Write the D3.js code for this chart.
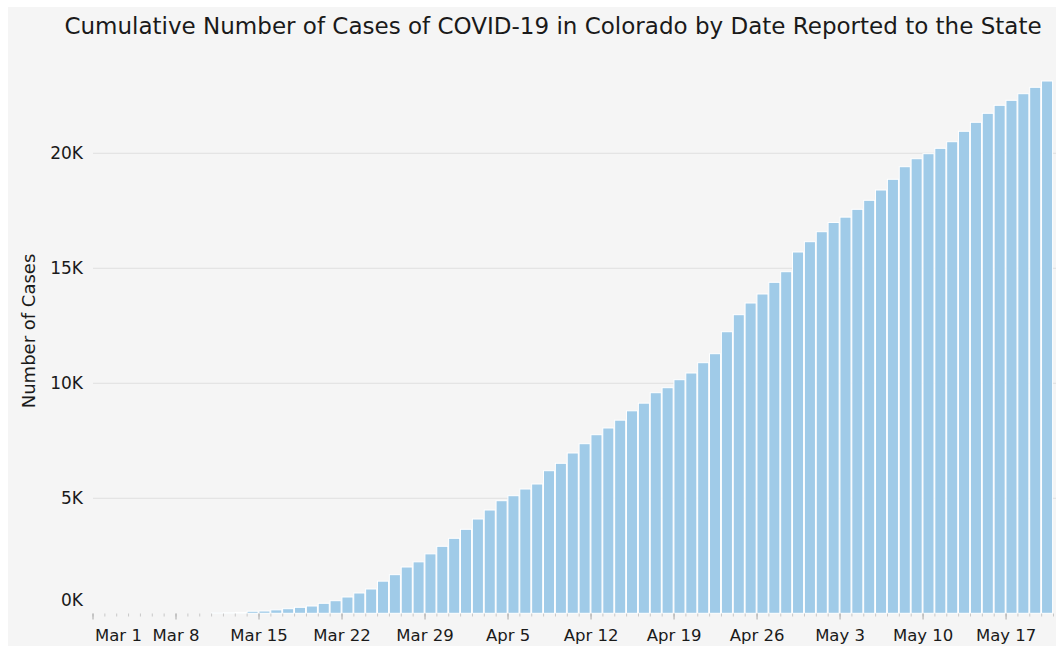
<!DOCTYPE html>
<html>
<head>
<meta charset="utf-8">
<script src="https://cdn.jsdelivr.net/npm/d3@7"></script>
<style>
  body { margin: 0; background: #ffffff; }
  svg { display: block; font-family: "DejaVu Sans", sans-serif; }
</style>
</head>
<body>
<div id="chart"></div>
<script>
// cumulative cases by date reported
const dates = [
  "2020-03-11", "2020-03-12", "2020-03-13", "2020-03-14", "2020-03-15", "2020-03-16", "2020-03-17",
  "2020-03-18", "2020-03-19", "2020-03-20", "2020-03-21", "2020-03-22", "2020-03-23", "2020-03-24",
  "2020-03-25", "2020-03-26", "2020-03-27", "2020-03-28", "2020-03-29", "2020-03-30", "2020-03-31",
  "2020-04-01", "2020-04-02", "2020-04-03", "2020-04-04", "2020-04-05", "2020-04-06", "2020-04-07",
  "2020-04-08", "2020-04-09", "2020-04-10", "2020-04-11", "2020-04-12", "2020-04-13", "2020-04-14",
  "2020-04-15", "2020-04-16", "2020-04-17", "2020-04-18", "2020-04-19", "2020-04-20", "2020-04-21",
  "2020-04-22", "2020-04-23", "2020-04-24", "2020-04-25", "2020-04-26", "2020-04-27", "2020-04-28",
  "2020-04-29", "2020-04-30", "2020-05-01", "2020-05-02", "2020-05-03", "2020-05-04", "2020-05-05",
  "2020-05-06", "2020-05-07", "2020-05-08", "2020-05-09", "2020-05-10", "2020-05-11", "2020-05-12",
  "2020-05-13", "2020-05-14", "2020-05-15", "2020-05-16", "2020-05-17", "2020-05-18", "2020-05-19",
  "2020-05-20"
];
const cases = [
  20, 30, 40, 90, 100, 150, 200,
  260, 317, 435, 548, 709, 883, 1057,
  1398, 1680, 2013, 2238, 2585, 2913, 3261,
  3652, 4100, 4491, 4896, 5113, 5404, 5622,
  6200, 6522, 6970, 7374, 7765, 8057, 8398,
  8804, 9137, 9591, 9809, 10157, 10448, 10896,
  11287, 12243, 12983, 13491, 13883, 14391, 14852,
  15709, 16157, 16591, 16993, 17225, 17565, 17957,
  18404, 18870, 19417, 19765, 19983, 20217, 20504,
  20957, 21348, 21739, 22087, 22304, 22591, 22870,
  23143
];
const yTicks = [0, 5000, 10000, 15000, 20000];
const axisStart = "2020-03-01";
const axisEnd = "2020-05-21";

const title = "Cumulative Number of Cases of COVID-19 in Colorado by Date Reported to the State";
const yTitle = "Number of Cases";

const w = 1056;
const h = 646;
const parse = d3.timeParse("%Y-%m-%d");
const data = dates.map((d, i) => ({ date: parse(d), value: cases[i] }));

const svg = d3.select("#chart")
  .append("svg")
  .attr("width", w)
  .attr("height", h);

svg.append("rect")
  .attr("x", 8)
  .attr("y", 7)
  .attr("width", w - 8)
  .attr("height", h - 7)
  .attr("fill", "#f5f5f5");

const xScale = d3.scaleTime()
  .domain([parse(axisStart), parse(axisEnd)])
  .range([92.5, 1053]);

const yScale = d3.scaleLinear()
  .domain([0, 20000])
  .range([613.3, 153.3]);

// gridlines
svg.append("g")
  .selectAll("line")
  .data(yTicks.filter(d => d > 0))
  .enter()
  .append("line")
  .attr("x1", 93)
  .attr("x2", w)
  .attr("y1", d => yScale(d))
  .attr("y2", d => yScale(d))
  .attr("stroke", "#e4e4e4")
  .attr("stroke-width", 1.2);

// bars
svg.append("g")
  .selectAll("rect")
  .data(data)
  .enter()
  .append("rect")
  .attr("x", d => xScale(d.date) + 0.4)
  .attr("width", d => xScale(d3.timeDay.offset(d.date, 1)) - xScale(d.date) - 0.8)
  .attr("y", d => yScale(d.value))
  .attr("height", d => yScale(0) - yScale(d.value))
  .attr("fill", "#a0cbe8")
  .attr("stroke", "#ffffff")
  .attr("stroke-width", 1);

// minor ticks (days)
const minorAxis = d3.axisBottom(xScale)
  .ticks(d3.timeDay.every(1))
  .tickSize(3)
  .tickFormat("");
svg.append("g")
  .attr("transform", "translate(0, 613.5)")
  .call(minorAxis)
  .call(g => g.select(".domain").remove())
  .call(g => g.selectAll(".tick line").attr("stroke", "#c8c8c8"));

// major ticks (weeks)
const xAxis = d3.axisBottom(xScale)
  .ticks(d3.timeWeek.every(1))
  .tickSize(6)
  .tickFormat(d3.timeFormat("%b %-d"));
svg.append("g")
  .attr("transform", "translate(0, 613.5)")
  .call(xAxis)
  .call(g => g.select(".domain").remove())
  .call(g => g.selectAll(".tick line").attr("stroke", "#a8a8a8"))
  .call(g => g.selectAll(".tick text")
    .attr("y", 27)
    .attr("dy", 0)
    .attr("fill", "#1a1a1a")
    .style("font-family", "DejaVu Sans, sans-serif")
    .style("font-size", "16.5px")
    .filter((d, i) => i === 0)
    .attr("text-anchor", "start")
    .attr("x", 2));

// y axis labels
const yAxis = d3.axisLeft(yScale)
  .tickValues(yTicks)
  .tickSize(0)
  .tickFormat(d => d / 1000 + "K");
svg.append("g")
  .attr("transform", "translate(83, 0)")
  .call(yAxis)
  .call(g => g.select(".domain").remove())
  .call(g => g.selectAll(".tick text")
    .attr("x", 0)
    .attr("fill", "#1a1a1a")
    .style("font-family", "DejaVu Sans, sans-serif")
    .style("font-size", "17px")
    .filter(d => d === 0)
    .attr("dy", "-0.45em"));

// y axis title
svg.append("text")
  .attr("transform", "translate(35, 331) rotate(-90)")
  .attr("text-anchor", "middle")
  .attr("fill", "#1a1a1a")
  .style("font-size", "18px")
  .text(yTitle);

// chart title, sized to span the same width as the original
const titleText = svg.append("text")
  .attr("x", 553)
  .attr("y", 34)
  .attr("text-anchor", "middle")
  .attr("fill", "#1a1a1a")
  .style("font-size", "20px")
  .text(title);
const tw = titleText.node().getComputedTextLength();
titleText.style("font-size", (20 * 978 / tw).toFixed(2) + "px");
</script>
</body>
</html>
